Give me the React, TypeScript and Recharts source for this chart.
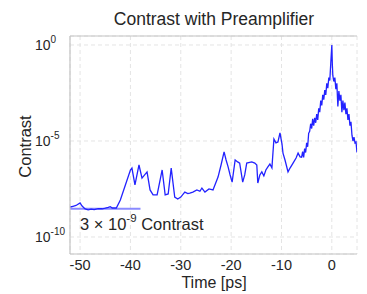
import React from 'react';
import { LineChart, Line, XAxis, YAxis, CartesianGrid, ReferenceLine, Customized } from 'recharts';

const times = [
  -52.0, -51.4, -50.8, -50.0, -49.6, -49.0, -48.4, -47.8, -47.2, -46.4, -45.6, -45.0, -44.4, -44.0, -43.6, -42.8,
  -42.0, -41.0, -40.0, -39.7, -39.1, -38.3, -37.7, -36.7, -36.1, -35.5, -34.7, -33.7, -33.1, -32.5, -31.9, -31.2,
  -30.6, -30.0, -29.2, -28.6, -28.2, -27.6, -26.8, -26.2, -25.8, -25.2, -24.4, -23.6, -22.6, -22.0, -21.4, -21.0,
  -20.6, -20.2, -19.8, -19.2, -18.7, -18.3, -17.7, -17.3, -16.9, -15.9, -15.3, -14.9, -14.7, -14.3, -13.9, -13.5,
  -13.1, -12.7, -12.3, -11.9, -11.5, -11.1, -10.7, -10.3, -9.9, -9.7, -9.3, -8.7, -8.3, -7.7, -7.1, -6.7, -6.3,
  -6.0, -5.8, -5.6, -5.4, -5.2, -5.0, -4.8, -4.6, -4.4, -4.2, -4.0, -3.8, -3.6, -3.4, -3.2, -3.0, -2.8, -2.6,
  -2.4, -2.2, -2.0, -1.8, -1.6, -1.4, -1.2, -1.0, -0.8, -0.6, -0.4, -0.2, 0.0, 0.1, 0.2, 0.4, 0.6, 0.8, 1.0,
  1.2, 1.4, 1.6, 1.8, 2.0, 2.2, 2.4, 2.6, 2.8, 3.0, 3.2, 3.4, 3.6, 3.8, 4.0, 4.2, 4.4, 4.6, 4.8, 5.0,
];

// log10 of the contrast
const exponents = [
  -8.44, -8.40, -8.36, -8.23, -8.39, -8.54, -8.59, -8.55, -8.57, -8.52, -8.53, -8.50, -8.46, -8.42, -8.49, -8.49,
  -8.07, -7.29, -6.51, -6.41, -7.29, -6.25, -6.93, -6.61, -7.55, -7.81, -7.81, -6.51, -7.81, -7.76, -6.41, -7.92,
  -8.02, -7.92, -7.66, -7.74, -7.71, -7.66, -7.55, -7.62, -7.45, -7.66, -7.50, -7.55, -6.88, -6.25, -5.57, -5.99,
  -6.35, -6.77, -7.14, -5.99, -6.09, -6.15, -7.14, -6.77, -6.15, -6.09, -6.15, -6.25, -7.19, -6.77, -6.61, -6.82,
  -6.51, -6.35, -6.20, -6.40, -4.90, -5.10, -5.05, -4.58, -5.15, -5.63, -5.99, -6.61, -6.41, -6.15, -5.89, -5.63, -5.83,
  -5.85, -5.55, -5.85, -5.40, -5.60, -5.10, -5.30, -4.60, -4.50, -4.10, -4.35, -3.85, -4.20, -3.80, -4.05, -3.60, -3.90, -3.30,
  -3.50, -2.90, -3.15, -2.60, -2.85, -2.35, -2.60, -2.00, -2.25, -1.70, -1.85, -0.90, 0.00, -1.00, -1.60, -1.90, -1.70, -2.30, -2.00,
  -3.20, -2.40, -2.90, -2.60, -3.50, -2.90, -3.40, -3.00, -3.60, -3.30, -3.90, -3.60, -4.20, -4.00, -4.70, -5.00, -4.80, -5.10, -5.05, -5.60,
];

const xTicks = [-50, -40, -30, -20, -10, 0];
const yTicks = [1e-10, 1e-5, 1];
const xDomain = [-52, 5];
const yDomain = [1.3e-11, 2.94];
const floorLevel = 3e-9;
const floorStart = -52;
const floorEnd = -38;

const titleText = 'Contrast with Preamplifier';
const xLabel = 'Time [ps]';
const yLabel = 'Contrast';
const noteBase = '3 \u00d7 10';
const noteExp = '-9';
const noteTail = ' Contrast';

const data = times.map((t, i) => ({ t, c: Math.pow(10, exponents[i]) }));

const FONT = '"Liberation Sans", Arial, sans-serif';
const TEXT = '#262626';
const AXIS = '#c4c4c4';

const YTick = (props: any) => {
  const { y, payload } = props;
  const exp = Math.round(Math.log10(payload.value));
  return (
    <text x={27} y={y + 5} fill={TEXT} fontSize={14} fontFamily={FONT} textAnchor="start">
      <tspan>10</tspan>
      <tspan dy={-7} fontSize={10}>{String(exp)}</tspan>
    </text>
  );
};

const XTick = (props: any) => {
  const { x, payload } = props;
  return (
    <text x={x} y={262} fill={TEXT} fontSize={14.5} fontFamily={FONT} textAnchor="middle">
      {String(payload.value)}
    </text>
  );
};

const Texts = () => (
  <g fontFamily={FONT} fill={TEXT}>
    <text x={206} y={17} fontSize={17.5} textAnchor="middle" fill={TEXT}>{titleText}</text>
    <text x={206} y={279.5} fontSize={16} textAnchor="middle" fill={TEXT}>{xLabel}</text>
    <text x={23} y={138.5} fontSize={16.5} textAnchor="middle" fill={TEXT} transform="rotate(-90 23 138.5)">{yLabel}</text>
    <text x={72} y={222} fontSize={16.5} fill={TEXT}>
      <tspan>{noteBase}</tspan>
      <tspan dy={-8} fontSize={11.5}>{noteExp}</tspan>
      <tspan dy={8}>{noteTail}</tspan>
    </text>
  </g>
);

export default function App() {
  return (
    <LineChart
      width={359}
      height={286}
      data={data}
      margin={{ top: 28, right: 10, bottom: 0, left: 0 }}
      style={{ fontFamily: FONT }}
    >
      <CartesianGrid stroke="#e4e4e4" strokeDasharray="4 3" />
      <XAxis
        dataKey="t"
        type="number"
        domain={xDomain}
        ticks={xTicks}
        height={40}
        tickLine={false}
        axisLine={{ stroke: AXIS, strokeWidth: 1.2 }}
        tick={<XTick />}
        allowDataOverflow
      />
      <YAxis
        type="number"
        scale="log"
        domain={yDomain}
        ticks={yTicks}
        width={62}
        tickLine={false}
        axisLine={{ stroke: AXIS, strokeWidth: 1.2 }}
        tick={<YTick />}
        allowDataOverflow
      />
      <ReferenceLine y={yDomain[1]} stroke={AXIS} strokeWidth={1.2} />
      <ReferenceLine
        segment={[{ x: floorStart, y: floorLevel }, { x: floorEnd, y: floorLevel }]}
        stroke="#8a8aff"
        strokeWidth={2}
      />
      <Line
        type="linear"
        dataKey="c"
        stroke="#2222ff"
        strokeWidth={1.3}
        dot={false}
        isAnimationActive={false}
      />
      <Customized component={Texts} />
    </LineChart>
  );
}
